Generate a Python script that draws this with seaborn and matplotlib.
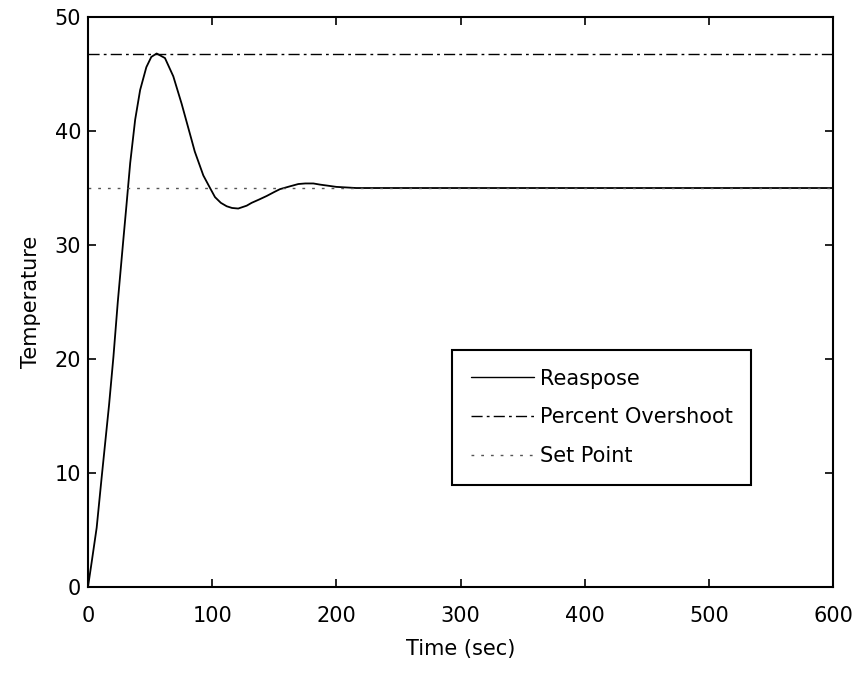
import numpy as np
import matplotlib
matplotlib.use("Agg")
import matplotlib.pyplot as plt
import seaborn as sns

# response curve (time in sec, temperature)
t = [0, 3, 7, 11, 14, 17, 20.5, 24, 28.5, 31, 34, 38, 42, 47, 51, 55.3, 62, 68.7, 75.4,
     83.5, 86, 92.9, 98.3, 102.3, 107, 111.7, 116, 121, 127.8, 131.8, 138, 143.9, 150,
     154.6, 162.7, 169.4, 175, 181.5, 186.8, 193.5, 200, 208, 216, 240, 300, 400, 500, 600]
temp = [0, 2.2, 5.2, 9.6, 12.8, 16.0, 20.2, 25.0, 30.5, 33.5, 37.2, 41.0, 43.6, 45.6,
        46.5, 46.8, 46.4, 44.8, 42.4, 39.2, 38.2, 36.1, 35.0, 34.2, 33.7, 33.4, 33.25, 33.2,
        33.45, 33.7, 34.0, 34.3, 34.65, 34.9, 35.15, 35.35, 35.4, 35.4, 35.3, 35.2, 35.1,
        35.05, 35.0, 35.0, 35.0, 35.0, 35.0, 35.0]

line_x = [0, 600]
overshoot = [46.8, 46.8]
set_point = [35.0, 35.0]

sns.set_style("ticks")
plt.rcParams["font.family"] = ["DejaVu Sans"]
plt.rcParams["text.color"] = "black"
plt.rcParams["axes.labelcolor"] = "black"

fig = plt.figure(figsize=(8.55, 6.73), dpi=100)
ax = fig.add_axes([0.1029, 0.1278, 0.8714, 0.8469])

sns.lineplot(x=t, y=temp, ax=ax, color="black", linewidth=1.3, label="Reaspose")
sns.lineplot(x=line_x, y=overshoot, ax=ax, color="black", linewidth=1.0,
             linestyle=(0, (8, 3, 2, 3)), label="Percent Overshoot")
sns.lineplot(x=line_x, y=set_point, ax=ax, color="#555555", linewidth=1.0,
             linestyle=(0, (2, 5)), label="Set Point")

ax.set_xlim(0, 600)
ax.set_ylim(0, 50)
ax.set_xticks(np.arange(0, 601, 100))
ax.set_yticks(np.arange(0, 51, 10))
ax.tick_params(direction="in", length=6, width=1.2, labelsize=15, colors="black",
               top=True, right=True)
ax.tick_params(axis="x", pad=14)
ax.tick_params(axis="y", pad=5)
for s in ax.spines.values():
    s.set_visible(True)
    s.set_color("black")
    s.set_linewidth(1.5)

ax.set_xlabel("Time (sec)", fontsize=15, labelpad=9)
ax.set_ylabel("Temperature", fontsize=15, labelpad=10)

leg = ax.legend(loc="upper left", bbox_to_anchor=(0.489, 0.416), fontsize=15,
                frameon=True, fancybox=False, edgecolor="black", framealpha=1,
                handlelength=3.0, handletextpad=0.3, labelspacing=0.9,
                borderpad=0.9, borderaxespad=0)
leg.get_frame().set_linewidth(1.5)
for h in leg.get_lines():
    h.set_linewidth(1.0)

fig.savefig("out.png", dpi=100)
